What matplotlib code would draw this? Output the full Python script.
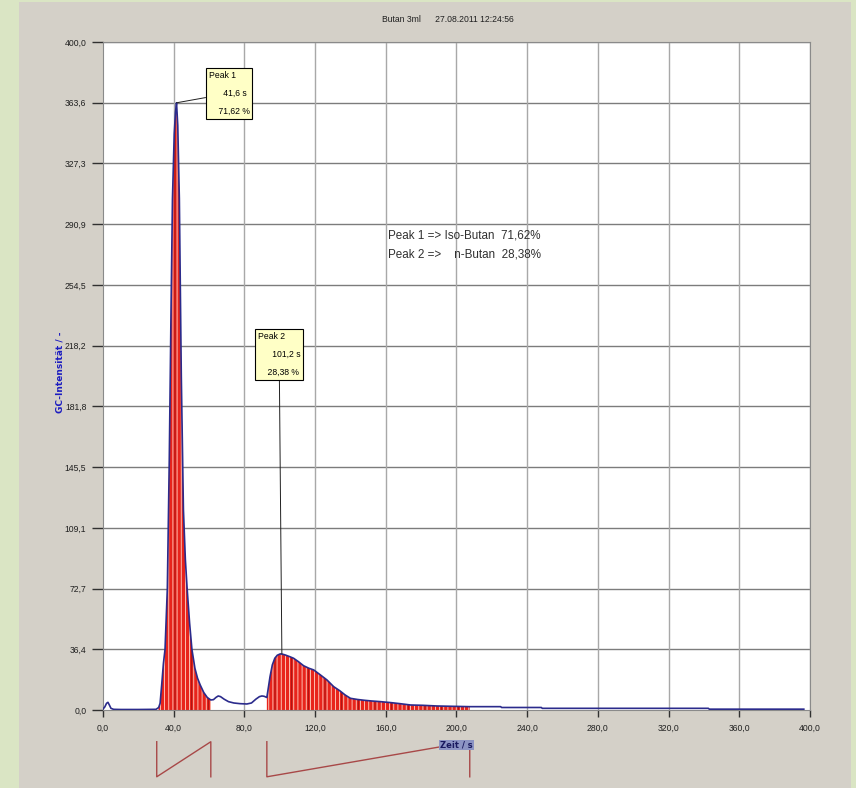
import matplotlib.pyplot as plt
from matplotlib.patches import Rectangle

# chromatogram trace (time in s, intensity)
t = [0, 1.0, 2.0, 2.8, 3.6, 4.5, 6, 10, 20, 30, 31.5, 32.3, 33.2, 34.2, 35.1, 36.4,
     37.5, 38.5, 39.3, 40.3, 41.0, 41.6, 42.3, 43.2, 44.3, 45.5, 46.6, 47.6, 49.0,
     50.3, 52.0, 53.5, 55.0, 57.0, 59.0, 61.0, 62.5, 64.0, 65.2, 66.5, 68.5, 71.0,
     74.0, 77.5, 81.4, 84.0, 86.5, 88.5, 89.9, 91.2, 92.7, 93.5, 94.5, 95.8, 97.2,
     98.6, 100.3, 101.2, 103.0, 105.5, 107.8, 110.5, 113.5, 116.5, 119.2, 123.0,
     126.7, 130.5, 134.0, 137.0, 140.0, 144.0, 148.0, 152.0, 157.0, 163.0, 168.0,
     174.0, 181.0, 189.0, 198.0, 207.5, 215.0, 225.0, 225.5, 248.0, 248.5, 342.5,
     343.0, 396.5]
intensity = [0.6, 1.8, 4.0, 4.6, 3.0, 1.0, 0.4, 0.3, 0.3, 0.4, 1.5, 4.0, 15.0, 28.0,
             36.4, 72.7, 150.0, 240.0, 306.0, 345.0, 358.0, 363.6, 350.0, 306.0,
             200.0, 120.0, 90.0, 72.7, 52.0, 36.4, 25.0, 19.0, 15.0, 10.5, 7.5, 6.0,
             6.2, 7.6, 8.4, 8.0, 6.5, 5.0, 4.2, 3.8, 3.6, 4.2, 6.5, 8.0, 8.4, 8.2,
             7.5, 13.0, 20.0, 27.0, 31.0, 32.8, 33.6, 33.5, 33.0, 32.0, 31.0, 29.0,
             26.5, 25.0, 24.0, 21.0, 18.0, 14.0, 11.5, 9.0, 7.0, 6.3, 5.8, 5.4, 5.0,
             4.4, 3.8, 3.0, 2.8, 2.4, 2.2, 2.0, 2.0, 2.0, 1.5, 1.5, 1.0, 1.0, 0.5, 0.5]

# integrated peaks: start, end, apex time, apex height, area %
peak_names = ['Peak 1', 'Peak 2']
peak_start = [30.4, 92.7]
peak_end = [61.0, 207.5]
peak_time = [41.6, 101.2]
peak_height = [363.6, 33.6]
peak_area = [71.62, 28.38]
compounds = ['Iso-Butan', 'n-Butan']

xticks = [0, 40, 80, 120, 160, 200, 240, 280, 320, 360, 400]
xtick_labels = ['0,0', '40,0', '80,0', '120,0', '160,0', '200,0', '240,0',
                '280,0', '320,0', '360,0', '400,0']
yticks = [0, 36.36, 72.73, 109.09, 145.45, 181.82, 218.18, 254.55, 290.91,
          327.27, 363.64, 400]
ytick_labels = ['0,0', '36,4', '72,7', '109,1', '145,5', '181,8', '218,2',
                '254,5', '290,9', '327,3', '363,6', '400,0']

narrow = ['Liberation Sans Narrow', 'Liberation Sans', 'DejaVu Sans']
green = '#dae5c4'
panel = '#d4d0c8'

plt.rcParams['hatch.linewidth'] = 0.6
plt.rcParams['hatch.color'] = '#ffd8c8'

fig = plt.figure(figsize=(8.56, 7.88), dpi=100, facecolor=green)
fig.patches.append(Rectangle((19 / 856, 0), 832 / 856, 786 / 788,
                             transform=fig.transFigure, facecolor=panel,
                             edgecolor='none', zorder=-10))

ax = fig.add_axes([103 / 856, 78 / 788, 707 / 856, 668 / 788])
ax.set_facecolor('white')
ax.set_xlim(0, 400)
ax.set_ylim(0, 400)

ax.set_xticks(xticks)
ax.set_xticklabels(xtick_labels, family=narrow, fontsize=6.2, color='#202020',
                   fontstretch='condensed')
ax.set_yticks(yticks)
ax.set_yticklabels(ytick_labels, family=narrow, fontsize=6.2, color='#202020',
                   fontstretch='condensed')
ax.tick_params(axis='y', direction='out', length=8, width=1, color='#303030', pad=4)
ax.tick_params(axis='x', direction='out', length=5, width=1, color='#303030', pad=5)

for yv in yticks[1:]:
    ax.axhline(yv, color='#7c7c7c', lw=1, zorder=1)
for xv in xticks[1:]:
    ax.axvline(xv, color='#a8a8a8', lw=1, zorder=1)
for side in ['top', 'right', 'left', 'bottom']:
    ax.spines[side].set_color('#8a8a8a')

# red filled integrated areas
for s, e in zip(peak_start, peak_end):
    xs = [v for v in t if s <= v <= e]
    ys = [intensity[t.index(v)] for v in xs]
    ax.fill_between(xs, 0, ys, facecolor='#e8241c', edgecolor='#ffd8c8',
                    hatch='||||', lw=0, zorder=2)
    ax.fill_between(xs, 0, ys, facecolor='none', edgecolor='#a01010',
                    hatch='|', lw=0, zorder=2)

ax.plot(t, intensity, color='#2b2b8c', lw=1.2, zorder=3)

# peak labels
offsets = [(32, 32), (-24, 322)]
for name, pt, ph, pa, off in zip(peak_names, peak_time, peak_height, peak_area, offsets):
    txt = (f'{name}\n      {pt:.1f} s\n    {pa:.2f} %').replace('.', ',')
    ax.annotate(txt, xy=(pt, ph), xytext=off, textcoords='offset pixels',
                ha='left', va='top', fontsize=6.2, family=narrow, linespacing=2.3,
                fontstretch='condensed',
                bbox=dict(boxstyle='square,pad=0.3', fc='#ffffc6', ec='black', lw=0.8),
                arrowprops=dict(arrowstyle='-', color='#202020', lw=0.7,
                                shrinkA=0, shrinkB=0),
                zorder=5)

summary = '\n'.join([
    f'{peak_names[0]} => {compounds[0]}  {peak_area[0]:.2f}%'.replace('.', ','),
    f'{peak_names[1]} =>    {compounds[1]}  {peak_area[1]:.2f}%'.replace('.', ','),
])
ax.text(161, 288, summary, ha='left', va='top', fontsize=8.4, family=narrow,
        fontstretch='condensed', color='#303030', linespacing=1.8, zorder=5)

# baseline markers below the axis
for s, e in zip(peak_start, peak_end):
    ax.plot([s, s, e, e], [-19, -40, -19, -40], color='#a84848', lw=1,
            clip_on=False, zorder=4)

ax.text(200, -21, 'Zeit / s', ha='center', va='center', fontsize=6,
        fontweight='bold', color='#1a1a60', clip_on=False,
        bbox=dict(boxstyle='square,pad=0.1', fc='#8c94c4', ec='none'), zorder=6)

fig.text(60 / 856, 1 - 372 / 788, 'GC-Intensität / -', rotation=90, ha='center',
         va='center', fontsize=6.5, fontweight='bold', color='#1c1cc0')
fig.text(448 / 856, 1 - 20 / 788, 'Butan 3ml      27.08.2011 12:24:56', ha='center',
         va='center', fontsize=6.2, family=narrow, fontstretch='condensed',
         color='#202020')

fig.savefig('out.png', dpi=100, facecolor=green)
